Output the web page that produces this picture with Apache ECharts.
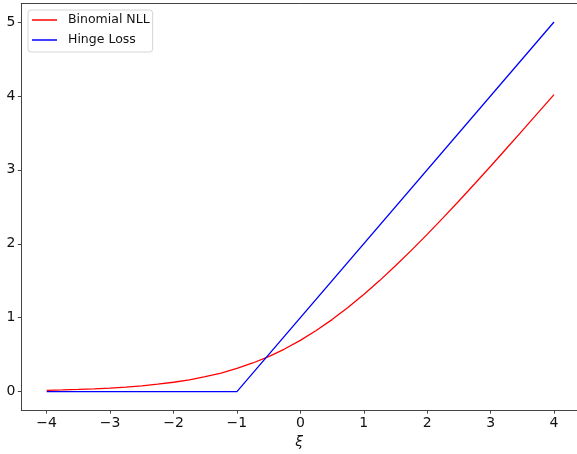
<!DOCTYPE html>
<html>
<head>
<meta charset="utf-8">
<script src="https://cdn.jsdelivr.net/npm/echarts@6/dist/echarts.min.js"></script>
<style>
  html, body { margin: 0; padding: 0; background: #fff; }
  #chart { width: 577px; height: 454px; }
</style>
</head>
<body>
<div id="chart"></div>
<script>
// Margin values ξ and the two loss curves
const xiValues = [-4, -3.75, -3.5, -3.25, -3, -2.75, -2.5, -2.25, -2, -1.75, -1.5, -1.25,
  -1, -0.75, -0.5, -0.25, 0, 0.25, 0.5, 0.75, 1, 1.25, 1.5, 1.75,
  2, 2.25, 2.5, 2.75, 3, 3.25, 3.5, 3.75, 4];
const binomialNLL = [0.0181, 0.0232, 0.0298, 0.0380, 0.0486, 0.0620, 0.0789, 0.1000, 0.1269, 0.1603, 0.2014, 0.2517,
  0.3133, 0.3873, 0.4741, 0.5759, 0.6931, 0.8259, 0.9741, 1.1373, 1.3133, 1.5017, 1.7014, 1.9103,
  2.1269, 2.3500, 2.5789, 2.8120, 3.0486, 3.2880, 3.5298, 3.7732, 4.0181];
const hingeXi = [-4, -1, 4];
const hingeLoss = [0, 0, 5];
const xTicks = [-4, -3, -2, -1, 0, 1, 2, 3, 4];
const yTicks = [0, 1, 2, 3, 4, 5];

const FONT = 'DejaVu Sans';
const SPINE = '#444';
const fmt = v => (v < 0 ? '\u2212' + (-v) : String(v));
const X_MIN = -4.4, X_MAX = 4.3626;

const chart = echarts.init(document.getElementById('chart'), null, { renderer: 'canvas' });
chart.setOption({
  animation: false,
  backgroundColor: '#fff',
  grid: { left: 21.3, right: 0, top: 3.5, bottom: 43.5 },
  legend: {
    left: 28, top: 10, orient: 'vertical',
    padding: [2, 3, 4, 4],
    itemGap: 4,
    itemWidth: 25, itemHeight: 1.5,
    icon: 'rect',
    backgroundColor: '#fff',
    borderColor: '#d6d6d6', borderWidth: 1, borderRadius: 3,
    textStyle: { fontFamily: FONT, fontSize: 12.5, color: '#111', lineHeight: 16, padding: [0, 0, 0, 6] },
    data: ['Binomial NLL', 'Hinge Loss']
  },
  xAxis: [
    {
      type: 'value', min: X_MIN, max: X_MAX, position: 'bottom',
      name: 'ξ', nameLocation: 'middle', nameGap: 17,
      nameTextStyle: { fontFamily: FONT, fontSize: 14, fontStyle: 'italic', color: '#111' },
      axisLine: { show: true, onZero: false, lineStyle: { color: SPINE, width: 1 } },
      axisTick: { show: true, length: 3.5, customValues: xTicks, lineStyle: { color: SPINE, width: 1 } },
      axisLabel: { customValues: xTicks, formatter: fmt, margin: 6, fontFamily: FONT, fontSize: 14, color: '#111' },
      splitLine: { show: false }
    },
    {
      // top frame edge
      type: 'value', min: X_MIN, max: X_MAX, position: 'top',
      axisLine: { show: true, onZero: false, lineStyle: { color: SPINE, width: 1 } },
      axisTick: { show: false }, axisLabel: { show: false }, splitLine: { show: false }
    }
  ],
  yAxis: {
    type: 'value', min: -0.25, max: 5.25,
    axisLine: { show: true, onZero: false, lineStyle: { color: SPINE, width: 1 } },
    axisTick: { show: true, length: 3.5, customValues: yTicks, lineStyle: { color: SPINE, width: 1 } },
    axisLabel: { customValues: yTicks, formatter: fmt, margin: 6, fontFamily: FONT, fontSize: 14, color: '#111' },
    splitLine: { show: false }
  },
  series: [
    {
      name: 'Binomial NLL', type: 'line', showSymbol: false, symbol: 'none',
      color: '#ff0000', lineStyle: { color: '#ff0000', width: 1.3 },
      data: xiValues.map((x, i) => [x, binomialNLL[i]])
    },
    {
      name: 'Hinge Loss', type: 'line', showSymbol: false, symbol: 'none',
      color: '#0000ff', lineStyle: { color: '#0000ff', width: 1.3 },
      data: hingeXi.map((x, i) => [x, hingeLoss[i]])
    }
  ]
});
</script>
</body>
</html>
